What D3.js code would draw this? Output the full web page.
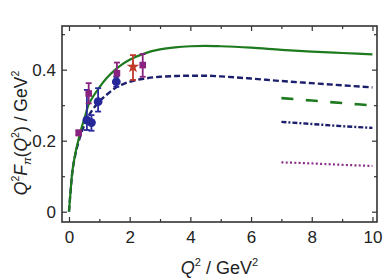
<!DOCTYPE html>
<html><head><meta charset="utf-8">
<script src="https://cdn.jsdelivr.net/npm/d3@7"></script>
<style>html,body{margin:0;padding:0;background:#fff;} svg{display:block;font-family:"Liberation Sans",Arial,sans-serif;}</style>
</head><body>
<svg id="c" width="383" height="280"></svg>
<script>
// ---- data ----
const solidGreen = [[0,0],[0.05,0.055],[0.1,0.105],[0.2,0.16],[0.3,0.198],[0.4,0.232],[0.5,0.26],[0.64,0.3],[0.8,0.325],[1.0,0.35],[1.25,0.377],[1.5,0.398],[1.75,0.415],[2.0,0.428],[2.5,0.446],[3.0,0.457],[3.5,0.463],[4.0,0.466],[4.5,0.467],[5.0,0.466],[6.0,0.462],[7.0,0.456],[8.0,0.451],[9.0,0.447],[10.0,0.443]];
const dashedNavy = [[0,0],[0.05,0.055],[0.1,0.103],[0.2,0.157],[0.3,0.192],[0.4,0.22],[0.5,0.243],[0.6,0.262],[0.75,0.284],[1.0,0.31],[1.25,0.33],[1.5,0.347],[1.75,0.358],[2.0,0.366],[2.5,0.375],[3.0,0.38],[3.5,0.382],[4.0,0.383],[4.5,0.383],[5.0,0.381],[6.0,0.375],[7.0,0.368],[8.0,0.362],[9.0,0.356],[10.0,0.35]];
const longDashGreen = [[7,0.32],[8,0.313],[9,0.306],[10,0.299]];
const dashDotNavy = [[7,0.253],[8,0.247],[9,0.241],[10,0.236]];
const dottedPurple = [[7,0.139],[8,0.136],[9,0.132],[10,0.129]];
// [Q2, value, low, high]
const circlePts = [[0.59,0.258,0.23,0.343],[0.74,0.251,0.228,0.272],[0.96,0.31,0.282,0.348],[1.56,0.366,0.352,0.38]];
const squarePts = [[0.32,0.222,0.215,0.229],[0.65,0.333,0.305,0.362],[1.58,0.39,0.363,0.42],[2.43,0.413,0.38,0.444]];
const starPts = [[2.11,0.408,0.371,0.441]];
const xTicks = [0,2,4,6,8,10];
const xMinor = [1,3,5,7,9];
const yTicks = [0,0.2,0.4];
const yMinor = [0.1,0.3,0.5];
const yTickLabels = ["0","0.2","0.4"];

// ---- layout ----
const L=62, R=377, T=26, B=222;
const svg = d3.select("#c");
const x = d3.scaleLinear().domain([-0.23,10.15]).range([L,R]);
const y = d3.scaleLinear().domain([-0.029,0.523]).range([B,T]);
const frameCol = "#333";

function addAxis(gen, tr, major, minor, labels, showLabels, majLen, minLen){
  const g = svg.append("g").attr("transform", tr);
  g.call(gen.tickValues(major).tickSizeInner(-majLen).tickSizeOuter(0).tickFormat((d,i)=> showLabels ? labels[i] : ""));
  g.select(".domain").remove();
  g.selectAll("line").attr("stroke",frameCol).attr("stroke-width",1.2);
  g.selectAll("text").attr("font-size",17).attr("fill","#222");
  const g2 = svg.append("g").attr("transform", tr);
  g2.call(gen.tickValues(minor).tickSizeInner(-minLen).tickSizeOuter(0).tickFormat(""));
  g2.select(".domain").remove();
  g2.selectAll("line").attr("stroke",frameCol).attr("stroke-width",1.2);
  return g;
}
const gx = addAxis(d3.axisBottom(x), `translate(0,${B})`, xTicks, xMinor, xTicks.map(String), true, 5, 3);
gx.selectAll("text").attr("dy","0").attr("y",21);
addAxis(d3.axisTop(x), `translate(0,${T})`, xTicks, xMinor, [], false, 5, 3);
const gy = addAxis(d3.axisLeft(y), `translate(${L},0)`, yTicks, yMinor, yTickLabels, true, 5, 3);
gy.selectAll("text").attr("x",-6).attr("dy","0.36em");
addAxis(d3.axisRight(y), `translate(${R},0)`, yTicks, yMinor, [], false, 5, 3);

svg.append("rect").attr("x",L).attr("y",T).attr("width",R-L).attr("height",B-T)
  .attr("fill","none").attr("stroke",frameCol).attr("stroke-width",1.6);

svg.append("clipPath").attr("id","pc").append("rect").attr("x",L).attr("y",T).attr("width",R-L).attr("height",B-T);
const line = d3.line().x(d=>x(d[0])).y(d=>y(d[1])).curve(d3.curveMonotoneX);
const plot = svg.append("g").attr("clip-path","url(#pc)");
plot.append("path").datum(dashedNavy).attr("d",line).attr("fill","none").attr("stroke","#1c1f6b").attr("stroke-width",2.4).attr("stroke-dasharray","6,3");
plot.append("path").datum(solidGreen).attr("d",line).attr("fill","none").attr("stroke","#1e7a1e").attr("stroke-width",2.2);
plot.append("path").datum(longDashGreen).attr("d",line).attr("fill","none").attr("stroke","#1e7a1e").attr("stroke-width",2.6).attr("stroke-dasharray","12,12.5");
plot.append("path").datum(dashDotNavy).attr("d",line).attr("fill","none").attr("stroke","#1c1f6b").attr("stroke-width",2.4).attr("stroke-dasharray","5,2,2,2");
plot.append("path").datum(dottedPurple).attr("d",line).attr("fill","none").attr("stroke","#8a2e88").attr("stroke-width",2.2).attr("stroke-dasharray","2,2.3");

function errBars(data, col){
  const g = plot.append("g").attr("stroke",col).attr("stroke-width",1.8);
  data.forEach(d=>{
    g.append("line").attr("x1",x(d[0])).attr("x2",x(d[0])).attr("y1",y(d[2])).attr("y2",y(d[3]));
    [d[2],d[3]].forEach(v=> g.append("line").attr("x1",x(d[0])-3).attr("x2",x(d[0])+3).attr("y1",y(v)).attr("y2",y(v)));
  });
}
errBars(circlePts,"#2a2a9c");
errBars(squarePts,"#8a2380");
errBars(starPts,"#c0392b");
plot.selectAll(".circ").data(circlePts).join("circle").attr("cx",d=>x(d[0])).attr("cy",d=>y(d[1])).attr("r",4.4).attr("fill","#26289a");
plot.selectAll(".sq").data(squarePts).join("rect").attr("x",d=>x(d[0])-3.3).attr("y",d=>y(d[1])-3.3).attr("width",6.6).attr("height",6.6).attr("fill","#8a2380");
const star = d3.symbol().type(d3.symbolStar).size(50);
plot.selectAll(".st").data(starPts).join("path").attr("d",star).attr("transform",d=>`translate(${x(d[0])},${y(d[1])})`).attr("fill","#c0392b");

const xt = svg.append("text").attr("x",(L+R)/2).attr("y",274).attr("text-anchor","middle").attr("font-size",18).attr("fill","#222");
xt.append("tspan").attr("font-style","italic").text("Q");
xt.append("tspan").attr("font-size",11).attr("dy",-8).text("2");
xt.append("tspan").attr("dy",8).text(" / GeV");
xt.append("tspan").attr("font-size",11).attr("dy",-8).text("2");

const yt = svg.append("text").attr("transform","translate(27,133) rotate(-90)").attr("text-anchor","middle").attr("font-size",17.5).attr("fill","#222");
yt.append("tspan").attr("font-style","italic").text("Q");
yt.append("tspan").attr("font-size",10.5).attr("dy",-8).text("2");
yt.append("tspan").attr("dy",8).attr("font-style","italic").text("F");
yt.append("tspan").attr("font-size",11.5).attr("dy",4).attr("font-style","italic").text("π");
yt.append("tspan").attr("dy",-4).text("(");
yt.append("tspan").attr("font-style","italic").text("Q");
yt.append("tspan").attr("font-size",10.5).attr("dy",-8).text("2");
yt.append("tspan").attr("dy",8).text(") / GeV");
yt.append("tspan").attr("font-size",10.5).attr("dy",-8).text("2");
</script>
</body></html>
